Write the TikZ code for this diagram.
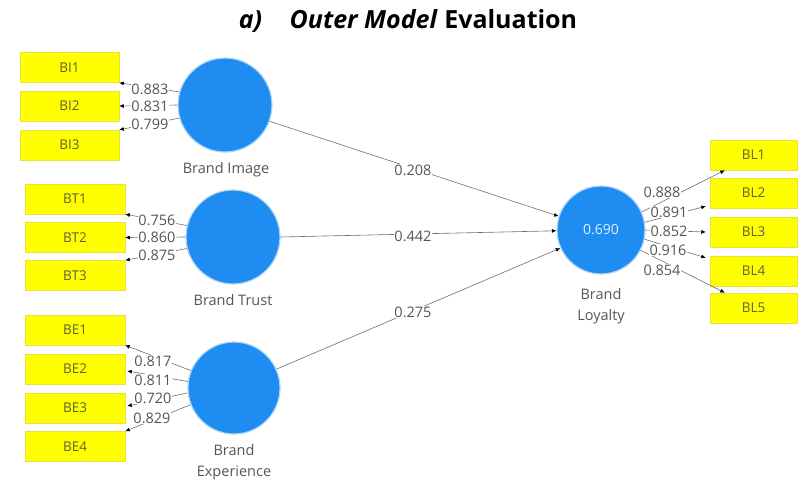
\documentclass[tikz,border=0pt]{standalone}
\usepackage{fontspec}
\setmainfont{Open Sans}
\usetikzlibrary{arrows.meta,calc}
\definecolor{lvblue}{RGB}{30,140,240}
\definecolor{ylw}{RGB}{255,255,0}
\definecolor{ylwb}{RGB}{235,225,60}
\definecolor{boxtxt}{RGB}{95,95,60}
\definecolor{txtgray}{RGB}{85,85,85}
\definecolor{linegray}{RGB}{110,110,110}
\tikzset{
 ind/.style={fill=ylw, draw=ylwb, line width=0.5pt, minimum width=99pt, minimum height=30pt, inner sep=0pt, text=boxtxt, font=\fontsize{13.5}{13.5}\selectfont},
 lv/.style={circle, fill=lvblue, draw=lvblue!35, line width=1.2pt, minimum size=94pt, inner sep=0pt},
 lab/.style={text=txtgray, font=\fontsize{14.5}{21}\selectfont, align=center},
 num/.style={text=txtgray, fill=white, inner sep=0.5pt, font=\fontsize{14.5}{14.5}\selectfont},
 lnk/.style={draw=linegray, line width=0.6pt, -{Latex[length=4.5pt,width=4pt,color=black]}}
}
\begin{document}
\begin{tikzpicture}[x=1pt,y=-1pt]
\useasboundingbox (0,0) rectangle (799,482);
\node[font=\fontsize{25}{25}\selectfont\bfseries] (title) at (408,21) {\itshape a)\hspace{1.1em}Outer Model\/ \upshape Evaluation};
% latent variables
\node[lv] (bi) at (225,105) {};
\node[lv] (bt) at (233,237) {};
\node[lv, minimum size=92pt] (be) at (234,388) {};
\node[lv, minimum size=88pt, text=white!85!lvblue, font=\fontsize{14}{14}\selectfont] (bl) at (601,230) {0.690};
\node[lab] (bilab) at (226,170) {Brand Image};
\node[lab] (btlab) at (233,300) {Brand Trust};
\node[lab] (belab) at (234,462) {Brand\\Experience};
\node[lab] (bllab) at (601,306) {Brand\\Loyalty};
% indicators
\node[ind] (bi1) at (69.5,67.5) {BI1};
\node[ind] (bi2) at (69.5,106) {BI2};
\node[ind] (bi3) at (69.5,145) {BI3};
\node[ind, minimum width=100pt] (bt1) at (75,199) {BT1};
\node[ind, minimum width=100pt] (bt2) at (75,237.5) {BT2};
\node[ind, minimum width=100pt] (bt3) at (75,275.5) {BT3};
\node[ind, minimum width=100pt] (be1) at (75,330) {BE1};
\node[ind, minimum width=100pt] (be2) at (75,369) {BE2};
\node[ind, minimum width=100pt] (be3) at (75,408) {BE3};
\node[ind, minimum width=100pt] (be4) at (75,446.5) {BE4};
\node[ind, minimum width=87pt] (bl1) at (753.5,155) {BL1};
\node[ind, minimum width=87pt] (bl2) at (753.5,193) {BL2};
\node[ind, minimum width=87pt] (bl3) at (753.5,232) {BL3};
\node[ind, minimum width=87pt] (bl4) at (753.5,271) {BL4};
\node[ind, minimum width=87pt] (bl5) at (753.5,308) {BL5};
% outer loadings
\draw[lnk] (bi.164) -- (bi1.south east);
\draw[lnk] (bi.180) -- (bi2.east);
\draw[lnk] (bi.196) -- (bi3.north east);
\draw[lnk] (bt.166) -- (bt1.south east);
\draw[lnk] (bt.180) -- (bt2.east);
\draw[lnk] (bt.194) -- (bt3.north east);
\draw[lnk] (be.158) -- (be1.south east);
\draw[lnk] (be.172) -- ($(be2.east)+(2,2)$);
\draw[lnk] (be.186) -- ($(be3.east)+(2,-2)$);
\draw[lnk] (be.201) -- (be4.north east);
\draw[lnk] (bl.24) -- ($(bl1.south west)+(15,0)$);
\draw[lnk] (bl.10) -- ($(bl2.south west)+(-4,-2)$);
\draw[lnk] (bl.0) -- ($(bl3.west)+(-4,0)$);
\draw[lnk] (bl.348) -- ($(bl4.north west)+(-4,2)$);
\draw[lnk] (bl.333) -- ($(bl5.north west)+(15,0)$);
% structural paths
\draw[lnk] (bi.340) -- (bl.162);
\draw[lnk] (bt.0) -- (bl.181);
\draw[lnk] (be.24) -- (bl.204);
% labels
\node[num] (l1) at (150,89) {0.883};
\node[num] (l2) at (150,106) {0.831};
\node[num] (l3) at (150,124) {0.799};
\node[num] (l4) at (157,220) {0.756};
\node[num] (l5) at (157,237) {0.860};
\node[num] (l6) at (157,255) {0.875};
\node[num] (l7) at (153,361) {0.817};
\node[num] (l8) at (153,380) {0.811};
\node[num] (l9) at (153,398) {0.720};
\node[num] (l10) at (152,418) {0.829};
\node[num] (l11) at (662,192) {0.888};
\node[num] (l12) at (669,212) {0.891};
\node[num] (l13) at (669,231) {0.852};
\node[num] (l14) at (668,250) {0.916};
\node[num] (l15) at (662,270) {0.854};
\node[num] (p1) at (413,170) {0.208};
\node[num] (p2) at (413,236) {0.442};
\node[num] (p3) at (413,312) {0.275};
\end{tikzpicture}
\end{document}
